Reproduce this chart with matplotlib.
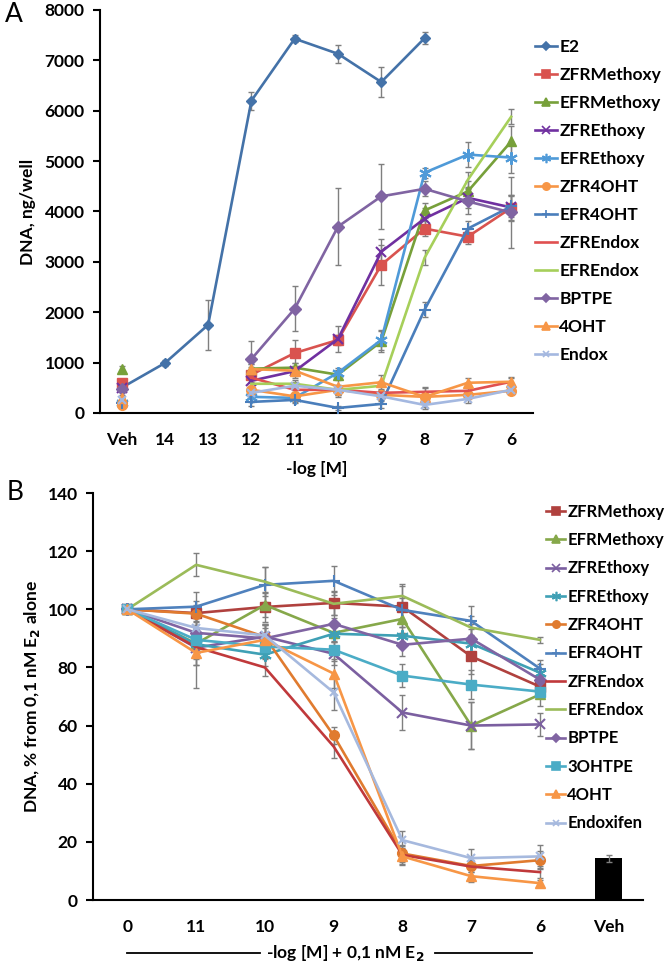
import numpy as np
import matplotlib
matplotlib.use("Agg")
import matplotlib.pyplot as plt
from matplotlib.lines import Line2D

plt.rcParams['font.family'] = ['Lato', 'DejaVu Sans']
plt.rcParams['font.weight'] = 'bold'

nan = np.nan

# ---- panel A data (DNA, ng/well) ----
cats_a = ["Veh", "14", "13", "12", "11", "10", "9", "8", "7", "6"]
names_a = ["E2", "ZFRMethoxy", "EFRMethoxy", "ZFREthoxy", "EFREthoxy", "ZFR4OHT",
           "EFR4OHT", "ZFREndox", "EFREndox", "BPTPE", "4OHT", "Endox"]
e2 = [500, 990, 1750, 6200, 7430, 7130, 6570, 7440, nan, nan]
zfr_methoxy_a = [600, nan, nan, 760, 1190, 1450, 2940, 3660, 3500, 4070]
efr_methoxy_a = [880, nan, nan, 880, 900, 760, 1420, 4020, 4400, 5390]
zfr_ethoxy_a = [500, nan, nan, 640, 830, 1470, 3200, 3860, 4270, 4080]
efr_ethoxy_a = [200, nan, nan, 320, 300, 800, 1450, 4770, 5130, 5070]
zfr_4oht_a = [150, nan, nan, 460, 330, 460, 360, 320, 360, 440]
efr_4oht_a = [200, nan, nan, 220, 260, 100, 180, 2050, 3660, 4100]
zfr_endox_a = [580, nan, nan, 700, 460, 460, 400, 420, 440, 620]
efr_endox_a = [560, nan, nan, 580, 580, 460, 540, 3080, 4630, 5880]
bptpe_a = [480, nan, nan, 1070, 2070, 3700, 4300, 4450, 4200, 3980]
oht_a = [300, nan, nan, 870, 840, 520, 610, 320, 600, 620]
endox_a = [250, nan, nan, 400, 540, 460, 330, 160, 280, 460]

err_e2 = [40, 60, 500, 180, 70, 180, 300, 120, nan, nan]
err_zfr_methoxy_a = [60, nan, nan, 150, 250, 100, 400, 150, 150, 250]
err_efr_methoxy_a = [50, nan, nan, 100, 100, 100, 200, 150, 200, 300]
err_zfr_ethoxy_a = [50, nan, nan, 100, 100, 250, 250, 200, 200, 250]
err_efr_ethoxy_a = [50, nan, nan, 100, 80, 100, 200, 100, 250, 300]
err_zfr_4oht_a = [40, nan, nan, 80, 80, 100, 80, 80, 60, 60]
err_efr_4oht_a = [40, nan, nan, 80, 60, 40, 80, 150, 150, 200]
err_zfr_endox_a = [50, nan, nan, 100, 60, 80, 80, 80, 80, 80]
err_efr_endox_a = [50, nan, nan, 80, 80, 80, 100, 150, 150, 150]
err_bptpe_a = [60, nan, nan, 350, 450, 770, 650, 150, 250, 700]
err_oht_a = [50, nan, nan, 100, 150, 200, 150, 200, 100, 100]
err_endox_a = [40, nan, nan, 80, 80, 100, 100, 80, 80, 80]

# ---- panel B data (% from 0,1 nM E2 alone) ----
cats_b = ["0", "11", "10", "9", "8", "7", "6", "Veh"]
names_b = ["ZFRMethoxy", "EFRMethoxy", "ZFREthoxy", "EFREthoxy", "ZFR4OHT", "EFR4OHT",
           "ZFREndox", "EFREndox", "BPTPE", "3OHTPE", "4OHT", "Endoxifen"]
zfr_methoxy_b = [100, 98.7, 100.8, 102.2, 100.9, 83.8, 73.4]
efr_methoxy_b = [100, 88.2, 101.5, 91.9, 96.7, 60.0, 70.7]
zfr_ethoxy_b = [100, 86.8, 90.6, 84.7, 64.5, 60.0, 60.4]
efr_ethoxy_b = [100, 88.0, 84.4, 91.6, 90.9, 88.2, 78.2]
zfr_4oht_b = [100, 98.5, 90.5, 56.6, 16.0, 11.7, 13.7]
efr_4oht_b = [100, 100.9, 108.4, 109.8, 99.8, 96.0, 79.6]
zfr_endox_b = [100, 87.0, 80.0, 52.8, 15.5, 11.5, 9.6]
efr_endox_b = [100, 115.3, 109.5, 101.9, 104.6, 93.7, 89.5]
bptpe_b = [100, 91.9, 90.0, 95.0, 87.8, 89.9, 75.8]
ohtpe3_b = [100, 89.5, 87.2, 86.1, 77.2, 74.1, 71.7]
oht_b = [100, 85.0, 89.5, 77.9, 15.0, 8.2, 5.8]
endoxifen_b = [100, 93.6, 91.0, 71.4, 20.6, 14.4, 15.0]
veh_b = 14.4
veh_err_b = 1.2

err_zfr_methoxy_b = [0, 4, 5, 4, 7, 6, 3]
err_efr_methoxy_b = [0, 5, 4, 5, 5, 8, 4]
err_zfr_ethoxy_b = [0, 6, 4, 4, 6, 8, 4]
err_efr_ethoxy_b = [0, 5, 4, 3, 3, 5, 3]
err_zfr_4oht_b = [0, 3, 4, 3, 3, 2, 3]
err_efr_4oht_b = [0, 5, 6, 5, 4, 5, 3]
err_zfr_endox_b = [0, 6, 3, 4, 3, 2, 2]
err_efr_endox_b = [0, 4, 5, 4, 4, 4, 1]
err_bptpe_b = [0, 5, 5, 6, 4, 5, 3]
err_ohtpe3_b = [0, 4, 4, 4, 4, 5, 2]
err_oht_b = [0, 12, 4, 5, 3, 2, 1]
err_endoxifen_b = [0, 5, 4, 6, 3, 3, 4]

star = (6, 2, 0)

series_a = [
    (e2, err_e2, "#4472A8", "D", 5),
    (zfr_methoxy_a, err_zfr_methoxy_a, "#D9534F", "s", 7),
    (efr_methoxy_a, err_efr_methoxy_a, "#77A03A", "^", 7),
    (zfr_ethoxy_a, err_zfr_ethoxy_a, "#7030A0", "x", 7),
    (efr_ethoxy_a, err_efr_ethoxy_a, "#4F9AD8", star, 9),
    (zfr_4oht_a, err_zfr_4oht_a, "#F79646", "o", 7),
    (efr_4oht_a, err_efr_4oht_a, "#4A7EBB", "+", 8),
    (zfr_endox_a, err_zfr_endox_a, "#E05050", None, 0),
    (efr_endox_a, err_efr_endox_a, "#A6CF5A", None, 0),
    (bptpe_a, err_bptpe_a, "#8064A2", "D", 6),
    (oht_a, err_oht_a, "#F79646", "^", 7),
    (endox_a, err_endox_a, "#A4B8E0", "x", 6),
]

series_b = [
    (zfr_methoxy_b, err_zfr_methoxy_b, "#B0413E", "s", 7),
    (efr_methoxy_b, err_efr_methoxy_b, "#86A84A", "^", 7),
    (zfr_ethoxy_b, err_zfr_ethoxy_b, "#7B5FA0", "x", 7),
    (efr_ethoxy_b, err_efr_ethoxy_b, "#3FA0B5", star, 9),
    (zfr_4oht_b, err_zfr_4oht_b, "#E07B2F", "o", 7),
    (efr_4oht_b, err_efr_4oht_b, "#4F81BD", "+", 8),
    (zfr_endox_b, err_zfr_endox_b, "#C0393B", None, 0),
    (efr_endox_b, err_efr_endox_b, "#9BBB59", None, 0),
    (bptpe_b, err_bptpe_b, "#8064A2", "D", 6),
    (ohtpe3_b, err_ohtpe3_b, "#4BACC6", "s", 7),
    (oht_b, err_oht_b, "#F79646", "^", 7),
    (endoxifen_b, err_endoxifen_b, "#A6B9DE", "x", 6),
]


def style_axis(ax):
    for s in ["top", "right"]:
        ax.spines[s].set_visible(False)
    ax.spines["left"].set_linewidth(1.5)
    ax.spines["bottom"].set_linewidth(1.5)
    ax.tick_params(axis="x", length=0, pad=14, labelsize=12.5)
    ax.tick_params(axis="y", direction="out", length=5, width=1.5, pad=6, labelsize=12.5)


def draw_series(ax, series, names):
    handles = []
    for (vals, errs, col, mk, ms), name in zip(series, names):
        x = np.arange(len(vals))
        ax.errorbar(x, vals, yerr=errs, fmt="none", ecolor="#7F7F7F",
                    elinewidth=1, capsize=2.5, capthick=1, zorder=2)
        ax.plot(x, vals, color=col, lw=1.9, marker=mk, ms=ms,
                mew=1.5 if mk in ("x", "+", star) else 1, mec=col, mfc=col, zorder=3)
        handles.append(Line2D([], [], color=col, lw=1.9, marker=mk, ms=ms * 0.75,
                              mew=1.2, mec=col, mfc=col, label=name))
    return handles


fig = plt.figure(figsize=(6.66, 9.69), dpi=100)

# ---- panel A ----
ax1 = fig.add_axes([0.150, 0.5738, 0.650, 0.4159])
h1 = draw_series(ax1, series_a, names_a)
ax1.set_xlim(-0.5, 9.5)
ax1.set_ylim(0, 8000)
ax1.set_yticks(np.arange(0, 8001, 1000))
ax1.set_xticks(np.arange(len(cats_a)))
ax1.set_xticklabels(cats_a)
style_axis(ax1)
ax1.set_ylabel("DNA, ng/well", fontsize=12.5, fontweight="bold", labelpad=6)
ax1.set_xlabel("-log [M]", fontsize=12.5, fontweight="bold", labelpad=9)
fig.text(0.008, 0.985, "A", fontsize=19, fontweight="normal", va="center")
fig.legend(handles=h1, loc="upper left", bbox_to_anchor=(0.793, 0.967), frameon=False,
           fontsize=12.5, handlelength=1.25, handletextpad=0.15, labelspacing=0.69,
           borderaxespad=0)

# ---- panel B ----
ax2 = fig.add_axes([0.1396, 0.0712, 0.826, 0.4200])
h2 = draw_series(ax2, series_b, names_b)
ax2.bar(len(cats_b) - 1, veh_b, width=0.4, color="black", zorder=3)
ax2.errorbar(len(cats_b) - 1, veh_b, yerr=veh_err_b, fmt="none", ecolor="#7F7F7F",
             elinewidth=1, capsize=2.5, zorder=4)
ax2.set_xlim(-0.5, 7.5)
ax2.set_ylim(0, 140)
ax2.set_yticks(np.arange(0, 141, 20))
ax2.set_xticks(np.arange(len(cats_b)))
ax2.set_xticklabels(cats_b)
style_axis(ax2)
ax2.set_ylabel("DNA, % from 0,1 nM E$_\\mathbf{2}$ alone", fontsize=12.5, fontweight="bold",
               labelpad=4)
fig.text(0.010, 0.492, "B", fontsize=19, fontweight="normal", va="center")
fig.text(0.519, 0.016, "-log [M] + 0,1 nM E$_\\mathbf{2}$", fontsize=12.5, fontweight="bold",
         ha="center", va="center")
fig.add_artist(Line2D([127 / 666, 260 / 666], [0.0165, 0.0165], color="black", lw=1.3))
fig.add_artist(Line2D([435 / 666, 532 / 666], [0.0165, 0.0165], color="black", lw=1.3))
fig.legend(handles=h2, loc="upper left", bbox_to_anchor=(0.810, 0.487), frameon=False,
           fontsize=12, handlelength=1.15, handletextpad=0.12, labelspacing=0.74,
           borderaxespad=0)

fig.savefig("out.png", dpi=100)
